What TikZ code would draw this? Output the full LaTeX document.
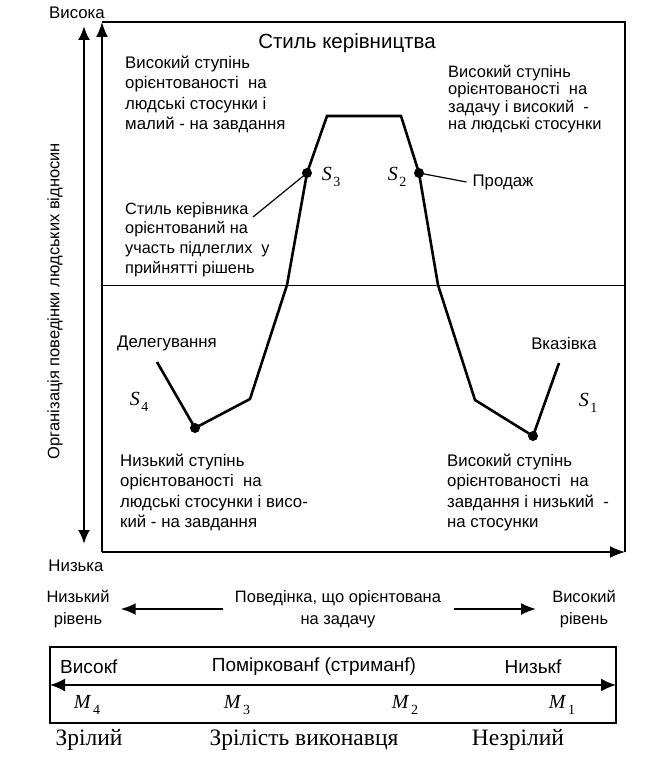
\documentclass[tikz,border=0pt]{standalone}
\usepackage{fontspec}
\setmainfont{Liberation Serif}
\setsansfont{Liberation Sans}
\usetikzlibrary{positioning, arrows.meta}
\newcommand{\symsub}[2]{\textit{#1}\kern1.5pt\raisebox{-0.3em}{\fontsize{14}{14}\selectfont #2}}
\tikzset{
  txt/.style={font=\sffamily\fontsize{16.8}{20.3}\selectfont, align=left, inner sep=0pt, anchor=north west},
  txtr/.style={font=\sffamily\fontsize{16.5}{17.5}\selectfont, align=left, inner sep=0pt, anchor=north west},
  lbl/.style={font=\sffamily\fontsize{16.5}{21.5}\selectfont, align=center, inner sep=0pt},
  tag/.style={font=\sffamily\fontsize{16.8}{20}\selectfont, inner sep=0pt},
  sym/.style={font=\fontsize{20}{20}\selectfont, inner sep=0pt},
  ser/.style={font=\fontsize{23.5}{23.5}\selectfont, inner sep=0pt},
  dot/.style={circle, fill, inner sep=0pt, minimum size=10pt},
  curve/.style={line width=2.6pt, line join=miter},
  tip/.style={-{Latex[length=15pt,width=12pt]}}}

\begin{document}
\begin{tikzpicture}[x=1pt, y=-1pt]
\useasboundingbox (0,0) rectangle (646,762);
	\coordinate (bl) at (102,552);
	\coordinate (tl) at (102,22);
	\coordinate (tr) at (625,22);
	\coordinate (br) at (625,552);
	\coordinate (ml) at (102,285);
	\coordinate (mr) at (625,285);
	\coordinate (ytop) at (84,26);
	\coordinate (ybot) at (84,544);
% curve
	\coordinate (d1) at (157,362);
	\coordinate (b1) at (250,399);
	\coordinate (x1) at (287,285);
	\coordinate (p1) at (327,116);
	\coordinate (p2) at (401,116);
	\coordinate (x2) at (438,285);
	\coordinate (b2) at (475,400);
	\coordinate (d2) at (559,363);
	\node [dot] (s4) at (195,428) {};
	\node [dot] (s3) at (307,173) {};
	\node [dot] (s2) at (419,173) {};
	\node [dot] (s1) at (533,436) {};
	\coordinate (lead) at (253,217);
% frame
\draw [line width=1.6pt, tip] (bl) -- (tl);
\draw [line width=1.4pt] (tl) -- (tr) -- (br);
\draw [line width=1.6pt, tip] (bl) -- (br);
\draw [line width=1pt] (ml) -- (mr);
\draw [line width=2.4pt, {Latex[length=14pt,width=12pt]}-{Latex[length=14pt,width=12pt]}] (ybot) -- (ytop);
\draw [curve] (d1) -- (s4.center) -- (b1) -- (x1) -- (s3.center) -- (p1) -- (p2) -- (s2.center) -- (x2) -- (b2) -- (s1.center) -- (d2);
\draw [line width=1.2pt] (s3.center) -- (lead);
% labels
\node [tag] (hi) at (77,13) {Висока};
\node [tag] (lo) at (76,566) {Низька};
\node [tag, rotate=90, font=\sffamily\fontsize{16.5}{20}\selectfont] (yl) at (55,301) {Організація поведінки людських відносин};
\node [tag, font=\sffamily\fontsize{20.5}{22}\selectfont] (title) at (347,43) {Стиль керівництва};
\node [txt] (q3) at (125,56) {Високий ступінь\\орієнтованості\ \ на\\людські стосунки і\\малий - на завдання};
\node [txtr] (q2) at (448,65) {Високий ступінь\\орієнтованості\ \ на\\задачу і високий\ \ -\\на людські стосунки};
\node [txt, font=\sffamily\fontsize{16.3}{19.8}\selectfont] (part) at (125,202) {Стиль керівника\\орієнтований на\\участь підлеглих\ \ у\\прийнятті рішень};
\node [txt] (q4) at (120,454) {Низький ступінь\\орієнтованості\ \ на\\людські стосунки і висо-\\кий - на завдання};
\node [txt] (q1) at (447,454) {Високий ступінь\\орієнтованості\ \ на\\завдання і низький\ \ -\\на стосунки};
\node [tag, inner sep=6pt] (sell) at (503,182) {Продаж};
\node [tag] (deleg) at (167,343) {Делегування};
\node [tag] (tell) at (564,343) {Вказівка};
\draw [line width=1.2pt] (s2.center) -- (sell.west);
\node [sym] (ls3) at (331,177) {\symsub{S}{3}};
\node [sym] (ls2) at (397,177) {\symsub{S}{2}};
\node [sym] (ls4) at (139,402) {\symsub{S}{4}};
\node [sym] (ls1) at (588,403) {\symsub{S}{1}};
% task axis
\node [lbl] (low) at (78,609) {Низький\\рівень};
\node [lbl] (behav) at (338,609) {Поведінка, що орієнтована\\на задачу};
\node [lbl] (high) at (584,609) {Високий\\рівень};
\draw [line width=2pt, tip, shorten <=12pt, shorten >=11pt] (behav.west) -- (low.east);
\draw [line width=2pt, tip, shorten <=13pt, shorten >=16pt] (behav.east) -- (high.west);
% maturity
	\coordinate (m1) at (50,647);
	\coordinate (m2) at (616,723);
	\coordinate (ma) at (50,685);
	\coordinate (mb) at (616,685);
\draw [line width=1.6pt] (m1) rectangle (m2);
\draw [line width=1.8pt, {Latex[length=15pt,width=13pt]}-{Latex[length=15pt,width=13pt]}] (ma) -- (mb);
\node [tag, font=\sffamily\fontsize{19}{20}\selectfont, anchor=west] (mhi) at (60,667) {Високf};
\node [tag, font=\sffamily\fontsize{19}{20}\selectfont] (mmid) at (314,667) {Поміркованf (стриманf)};
\node [tag, font=\sffamily\fontsize{19}{20}\selectfont] (mlo) at (533,667) {Низькf};
\node [sym] (lm4) at (87,705) {\symsub{M}{4}};
\node [sym] (lm3) at (237,705) {\symsub{M}{3}};
\node [sym] (lm2) at (405,705) {\symsub{M}{2}};
\node [sym] (lm1) at (562,705) {\symsub{M}{1}};
\node [ser] (mat) at (89,740) {Зрілий};
\node [ser] (matx) at (304,740) {Зрілість виконавця};
\node [ser] (imm) at (518,740) {Незрілий};
\end{tikzpicture}
\end{document}
